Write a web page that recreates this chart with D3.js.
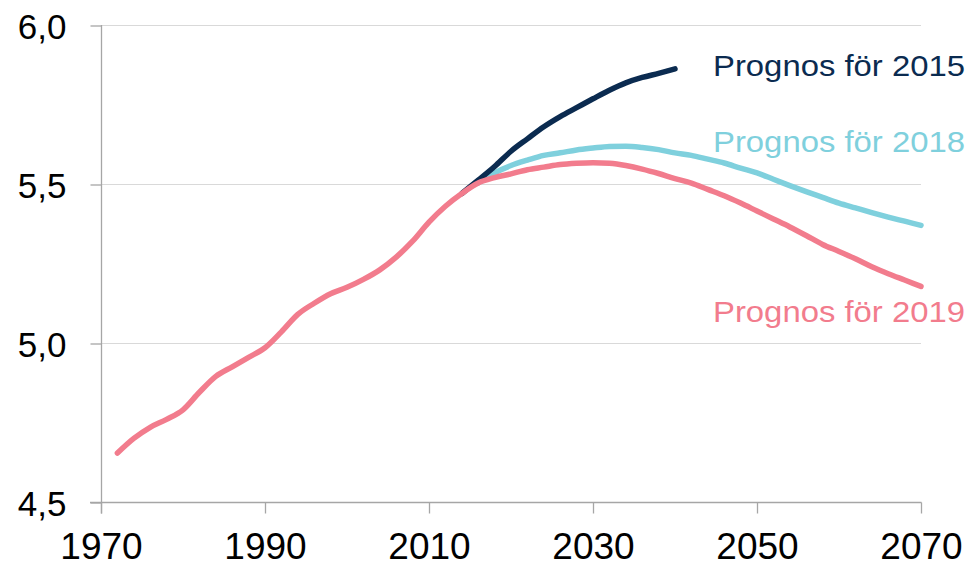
<!DOCTYPE html>
<html>
<head>
<meta charset="utf-8">
<script src="https://cdn.jsdelivr.net/npm/d3@7"></script>
<style>
  body { margin: 0; background: #fff; }
  svg { display: block; font-family: "Liberation Sans", Arial, sans-serif; }
</style>
</head>
<body>
<svg width="974" height="566"></svg>
<script>
// population (millions) - history + forecast 2019
var years2019 = [1972, 1974, 1976, 1978, 1980, 1982, 1984, 1986, 1988, 1990,
  1992, 1994, 1996, 1998, 2000, 2002, 2004, 2006, 2008, 2010,
  2012, 2014, 2016, 2018, 2020, 2022, 2024, 2026, 2028, 2030,
  2032, 2034, 2036, 2038, 2040, 2042, 2044, 2046, 2048, 2050,
  2052, 2054, 2056, 2058, 2060, 2062, 2064, 2066, 2068, 2070];
var values2019 = [4.654, 4.70, 4.735, 4.76, 4.79, 4.845, 4.895, 4.925, 4.955, 4.985,
  5.035, 5.09, 5.125, 5.155, 5.175, 5.20, 5.23, 5.27, 5.32, 5.38,
  5.43, 5.47, 5.503, 5.52, 5.532, 5.545, 5.553, 5.561, 5.565, 5.567,
  5.565, 5.558, 5.547, 5.533, 5.517, 5.503, 5.483, 5.463, 5.44, 5.415,
  5.39, 5.365, 5.338, 5.31, 5.288, 5.265, 5.24, 5.218, 5.198, 5.178];

var years2018 = [2016, 2018, 2020, 2022, 2024, 2026, 2028, 2030, 2032, 2034,
  2036, 2038, 2040, 2042, 2044, 2046, 2048, 2050, 2052, 2054,
  2056, 2058, 2060, 2062, 2064, 2066, 2068, 2070];
var values2018 = [5.503, 5.535, 5.558, 5.575, 5.59, 5.598, 5.607, 5.613, 5.618, 5.619,
  5.615, 5.608, 5.598, 5.59, 5.578, 5.566, 5.55, 5.535, 5.515, 5.495,
  5.476, 5.458, 5.44, 5.425, 5.41, 5.396, 5.383, 5.37];

var years2015 = [2014, 2016, 2018, 2020, 2022, 2024, 2026, 2028, 2030, 2032,
  2034, 2036, 2038, 2040];
var values2015 = [5.47, 5.512, 5.555, 5.603, 5.642, 5.68, 5.712, 5.74, 5.768, 5.795,
  5.818, 5.835, 5.848, 5.862];

var xTicks = [1970, 1990, 2010, 2030, 2050, 2070];
var yTicks = [4.5, 5.0, 5.5, 6.0];

var series = [
  { name: "Prognos för 2018", years: years2018, values: values2018, color: "#7fd0dd", labelY: 152 },
  { name: "Prognos för 2015", years: years2015, values: values2015, color: "#0b2b50", labelY: 76 },
  { name: "Prognos för 2019", years: years2019, values: values2019, color: "#f27c8d", labelY: 322 }
];

var svg = d3.select("svg");
var plotLeft = 101, plotRight = 921, plotTop = 25, plotBottom = 502;

var x = d3.scaleLinear().domain([1970, 2070]).range([plotLeft, plotRight]);
var y = d3.scaleLinear().domain([4.5, 6.0]).range([plotBottom, plotTop]);

var fmt = d3.formatLocale({ decimal: ",", thousands: " ", grouping: [3], currency: ["", " kr"] }).format(".1f");

// gridlines
svg.append("g")
  .selectAll("line")
  .data(yTicks.slice(1))
  .enter()
  .append("line")
    .attr("x1", plotLeft)
    .attr("x2", plotRight)
    .attr("y1", d => y(d) + 0.5)
    .attr("y2", d => y(d) + 0.5)
    .attr("stroke", "#d9d9d9")
    .attr("stroke-width", 1.2);

// y axis
var yAxis = svg.append("g")
  .attr("transform", "translate(" + (plotLeft + 0.5) + ",0.5)")
  .call(d3.axisLeft(y).tickValues(yTicks).tickFormat(fmt).tickSize(11).tickPadding(24));
yAxis.select(".domain").attr("stroke", "#a6a6a6").attr("stroke-width", 1.3)
  .attr("d", "M0," + (plotTop - 0.5) + "V" + (plotBottom + 11));
yAxis.selectAll(".tick line").attr("stroke", "#a6a6a6").attr("stroke-width", 1.3);
yAxis.selectAll(".tick text")
  .attr("font-size", 35)
  .attr("fill", "#000")
  .attr("font-family", "Liberation Sans, Arial, sans-serif")
  .attr("dy", "0.36em");

// x axis
var xAxis = svg.append("g")
  .attr("transform", "translate(0," + (plotBottom + 0.5) + ")")
  .call(d3.axisBottom(x).tickValues(xTicks).tickFormat(d3.format("d")).tickSize(11).tickPadding(19));
xAxis.select(".domain").attr("stroke", "#a6a6a6").attr("stroke-width", 1.3)
  .attr("d", "M" + (plotLeft - 11) + ",0H" + (plotRight + 0.5));
xAxis.selectAll(".tick line").attr("stroke", "#a6a6a6").attr("stroke-width", 1.3);
xAxis.selectAll(".tick text")
  .attr("font-size", 37)
  .attr("fill", "#000")
  .attr("font-family", "Liberation Sans, Arial, sans-serif");

var line = d3.line()
  .x(d => x(d[0]))
  .y(d => y(d[1]))
  .curve(d3.curveMonotoneX);

svg.append("g")
  .selectAll("path")
  .data(series)
  .enter()
  .append("path")
    .attr("d", s => line(d3.zip(s.years, s.values)))
    .attr("fill", "none")
    .attr("stroke", s => s.color)
    .attr("stroke-width", 5.5)
    .attr("stroke-linecap", "round")
    .attr("stroke-linejoin", "round");

svg.append("g")
  .selectAll("text")
  .data(series)
  .enter()
  .append("text")
    .text(s => s.name)
    .attr("x", 713)
    .attr("y", s => s.labelY)
    .attr("fill", s => s.color)
    .attr("font-size", 29.5)
    .attr("textLength", 252)
    .attr("lengthAdjust", "spacingAndGlyphs");
</script>
</body>
</html>
